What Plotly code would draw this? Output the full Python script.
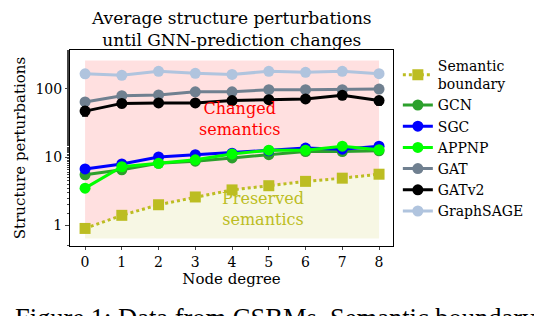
import plotly.graph_objects as go

degrees = [0, 1, 2, 3, 4, 5, 6, 7, 8]
boundary = [0.9, 1.4, 2.0, 2.6, 3.3, 3.8, 4.4, 4.9, 5.6]
gcn = [5.5, 6.5, 8.1, 8.7, 9.7, 10.8, 12.0, 12.0, 12.3]
sgc = [6.7, 7.9, 10.0, 10.8, 11.4, 12.3, 13.5, 13.0, 14.4]
appnp = [3.5, 7.2, 8.1, 9.1, 11.1, 12.6, 12.6, 14.4, 12.8]
gat = [64, 79, 81, 90, 90, 97, 97, 97, 99]
gatv2 = [47, 61, 62, 62, 67, 69, 71, 80, 67]
graphsage = [165, 157, 180, 168, 162, 180, 174, 180, 166]

gcn_err = [0.4, 0.4, 0.5, 0.5, 0.5, 0.6, 0.6, 0.6, 0.6]
sgc_err = [0.4, 0.4, 0.5, 0.5, 0.5, 0.6, 0.6, 0.6, 0.7]
appnp_err = [0.3, 0.4, 0.5, 0.5, 0.6, 0.7, 0.7, 0.8, 0.7]
gat_err = [4, 4, 4, 4, 4, 5, 5, 5, 5]
gatv2_err = [7, 8, 4, 4, 4, 4, 5, 9, 9]
graphsage_err = [8, 8, 9, 8, 8, 9, 9, 9, 8]
boundary_err = [0.05, 0.07, 0.08, 0.1, 0.1, 0.12, 0.12, 0.13, 0.15]

region_low = 0.64
region_high = 260

SERIF = "DejaVu Serif"
CAPTION_FONT = "Liberation Serif"
fig = go.Figure()

# Preserved semantics region (below boundary)
fig.add_trace(go.Scatter(x=degrees, y=[region_low] * len(degrees), mode="lines",
                         line=dict(width=0), showlegend=False, hoverinfo="skip"))
fig.add_trace(go.Scatter(x=degrees, y=boundary, mode="lines", line=dict(width=0),
                         fill="tonexty", fillcolor="rgba(188,189,34,0.12)",
                         showlegend=False, hoverinfo="skip"))
# Changed semantics region (above boundary)
fig.add_trace(go.Scatter(x=degrees, y=[region_high] * len(degrees), mode="lines",
                         line=dict(width=0), fill="tonexty",
                         fillcolor="rgba(255,0,0,0.12)",
                         showlegend=False, hoverinfo="skip"))

fig.add_trace(go.Scatter(
    x=degrees, y=boundary, name="Semantic<br>boundary", mode="lines+markers",
    line=dict(color="#bcbd22", width=3, dash="dot"),
    marker=dict(symbol="square", size=11, color="#bcbd22"),
    error_y=dict(type="data", array=boundary_err, color="#bcbd22", thickness=1.5, width=3)))

series = [
    ("GCN", gcn, gcn_err, "#2ca02c"),
    ("SGC", sgc, sgc_err, "#0000ff"),
    ("APPNP", appnp, appnp_err, "#00ff00"),
    ("GAT", gat, gat_err, "#708090"),
    ("GATv2", gatv2, gatv2_err, "#000000"),
    ("GraphSAGE", graphsage, graphsage_err, "#b0c4de"),
]
for name, vals, err, col in series:
    fig.add_trace(go.Scatter(
        x=degrees, y=vals, name=name, mode="lines+markers",
        line=dict(color=col, width=3),
        marker=dict(symbol="circle", size=11, color=col),
        error_y=dict(type="data", array=err, color=col, thickness=1.5, width=3)))

fig.add_annotation(x=4.2, y=1.55, xref="x", yref="y", yanchor="middle",
                   text="Changed<br>semantics", showarrow=False,
                   font=dict(family=SERIF, size=16, color="#ff0000"))
fig.add_annotation(x=4.85, y=0.24, xref="x", yref="y", yanchor="middle",
                   text="Preserved<br>semantics", showarrow=False,
                   font=dict(family=SERIF, size=16, color="#bcbd22"))

# Title as annotation
fig.add_annotation(x=0.5, y=1.226, xref="paper", yref="paper", xanchor="center",
                   yanchor="top", showarrow=False,
                   text="Average structure perturbations<br>until GNN-prediction changes",
                   font=dict(family=SERIF, size=17, color="black"))

fig.add_annotation(x=-0.176, y=-0.28, xref="paper", yref="paper", xanchor="left",
                   yanchor="top", text="Figure 1: Data from CSBMs. Semantic boundary",
                   showarrow=False, font=dict(family=CAPTION_FONT, size=26.5, color="black"))

fig.update_layout(
    width=542, height=316,
    margin=dict(l=62, r=157, t=42, b=78),
    plot_bgcolor="white", paper_bgcolor="white",
    font=dict(family=SERIF, size=14, color="black"),
    legend=dict(x=1.015, y=1.0, xanchor="left", yanchor="top", traceorder="normal",
                font=dict(family=SERIF, size=14), bgcolor="rgba(0,0,0,0)",
                tracegroupgap=0, itemwidth=30),
    showlegend=True,
)
fig.update_xaxes(range=[-0.41, 8.38], tickvals=degrees, ticks="outside", ticklen=3,
                 showline=True, linecolor="black", linewidth=1, mirror=True,
                 showgrid=False, zeroline=False,
                 title=dict(text="Node degree", standoff=0, font=dict(size=15)),
                 tickfont=dict(size=14))
fig.update_yaxes(type="log", range=[-0.303, 2.567], tickvals=[1, 10, 100],
                 ticktext=["1", "10", "100"], ticks="outside", ticklen=4,
                 minor=dict(ticks="outside", ticklen=2, showgrid=False),
                 showline=True, linecolor="black", linewidth=1, mirror=True,
                 showgrid=False, zeroline=False,
                 title=dict(text="Structure perturbations", standoff=6, font=dict(size=15)),
                 tickfont=dict(size=14))

fig.write_html("out.html")
